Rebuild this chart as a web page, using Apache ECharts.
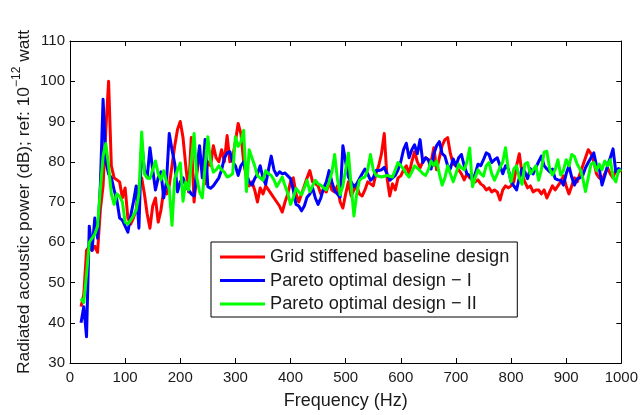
<!DOCTYPE html>
<html>
<head>
<meta charset="utf-8">
<script src="https://cdn.jsdelivr.net/npm/echarts@6/dist/echarts.min.js"></script>
<style>
  html, body { margin: 0; padding: 0; background: #fff; }
  #chart { width: 641px; height: 415px; }
</style>
</head>
<body>
<div id="chart"></div>
<script>
// Frequency samples (Hz)
const frequencies = [
  20, 25, 30, 35, 40, 45, 50, 55, 60, 65, 70, 75, 80, 85, 90, 95, 100, 105, 110, 115,
  120, 125, 130, 135, 140, 145, 150, 155, 160, 165, 170, 175, 180, 185, 190, 195, 200, 205, 210, 215,
  220, 225, 230, 235, 240, 245, 250, 255, 260, 265, 270, 275, 280, 285, 290, 295, 300, 305, 310, 315,
  320, 325, 330, 335, 340, 345, 350, 355, 360, 365, 370, 375, 380, 385, 390, 395, 400, 405, 410, 415,
  420, 425, 430, 435, 440, 445, 450, 455, 460, 465, 470, 475, 480, 485, 490, 495, 500, 505, 510, 515,
  520, 525, 530, 535, 540, 545, 550, 555, 560, 565, 570, 575, 580, 585, 590, 595, 600, 605, 610, 615,
  620, 625, 630, 635, 640, 645, 650, 655, 660, 665, 670, 675, 680, 685, 690, 695, 700, 705, 710, 715,
  720, 725, 730, 735, 740, 745, 750, 755, 760, 765, 770, 775, 780, 785, 790, 795, 800, 805, 810, 815,
  820, 825, 830, 835, 840, 845, 850, 855, 860, 865, 870, 875, 880, 885, 890, 895, 900, 905, 910, 915,
  920, 925, 930, 935, 940, 945, 950, 955, 960, 965, 970, 975, 980, 985, 990, 995, 1000
];

// Radiated acoustic power (dB), grid stiffened baseline design
const baselinePower = [
  44, 47, 58, 59, 58, 59, 57.5, 68, 74, 88, 100, 79, 76, 75.5, 75, 71, 73.5, 66, 64.5, 66,
  68, 74, 76, 72, 67, 63.5, 69, 71, 65, 68, 73, 72, 74, 79, 84, 88, 90, 86, 79, 72.5,
  86, 70, 77, 82, 78, 74.5, 80, 79, 84, 81, 80, 83, 80, 86.5, 80, 81, 85, 89.5, 87, 80,
  76, 74, 75, 73, 70, 73.5, 72, 74, 73, 72, 71, 70, 69, 67.5, 70, 72, 75, 76, 72, 70,
  72, 74, 76, 77.8, 75, 74.5, 74, 72, 73, 72.5, 75, 73, 72.5, 74, 70, 68.5, 72, 75, 71.5, 73,
  74, 72, 71.5, 73, 75, 74.5, 74, 77, 79, 82, 87, 76, 71.5, 74.5, 73, 76, 76.5, 78, 79, 77,
  80, 82.5, 80, 78.5, 80, 81, 80.5, 80, 83.5, 78, 81, 84, 85.5, 86, 82, 79.5, 79, 78, 77, 75.5,
  77, 76, 76.5, 75, 75.5, 74.5, 74, 73, 73.5, 72.5, 73, 72.5, 70.5, 73, 74, 73.5, 74, 75, 79, 82,
  77, 75, 73.5, 74, 72.5, 73, 73, 72, 73, 71, 72.5, 74, 73, 74, 75, 76.5, 74, 72, 74, 76,
  75, 77, 79, 81, 83, 82, 80, 77, 76, 75.5, 77, 78.5, 77, 76, 78, 77.5, 78
];

// Radiated acoustic power (dB), Pareto optimal design I
const paretoOnePower = [
  40, 44, 36.5, 64, 58, 66, 61, 74, 95.5, 80, 77, 76, 73, 70.5, 66, 65.5, 64, 62.5, 66.5, 70,
  74, 63.5, 85, 78, 76, 83.5, 78, 73, 76, 77.5, 71, 75, 87, 83, 79.5, 72.5, 75, 76, 74, 73,
  72, 71.5, 78, 84, 76, 85.5, 73.8, 73.4, 74, 75, 76, 78, 81, 82.2, 82.5, 80, 79, 76.6, 79, 80,
  77, 75, 74.2, 75.8, 77, 79, 76, 74.4, 78, 81.4, 78, 76.6, 77.5, 77, 77.2, 76.5, 75.8, 73, 69.4, 69,
  67.8, 69, 71.2, 72, 73.5, 71, 69.4, 71, 73.5, 75, 77.8, 75, 72.8, 72, 71.2, 84, 80, 76.2, 75, 73.8,
  74.5, 75.8, 77, 78.2, 77, 75.4, 76, 77.8, 77.8, 78, 78.6, 77, 75.4, 76, 76.6, 78, 80, 83, 84.6, 81,
  83, 84.2, 82, 85.5, 79.8, 81, 80.5, 78.2, 82, 84, 85, 82, 81.4, 79, 78.3, 80.7, 79, 81, 81.8, 79,
  77, 76.6, 75.3, 77, 79.4, 79, 80.5, 82.2, 81.8, 79.8, 80.5, 81, 79, 77, 79, 78.2, 75, 74, 73, 76,
  78.3, 77.5, 75.8, 78.3, 77, 78.6, 80, 81.4, 79, 78.2, 77.5, 78.2, 75.8, 75.5, 75.4, 74.2, 77, 79, 76.2, 74.2,
  75.8, 76, 76.6, 78.5, 79.8, 81, 82.2, 79, 78.3, 74.2, 76.5, 79, 81, 83.2, 77.5, 78.3, 78
];

// Radiated acoustic power (dB), Pareto optimal design II
const paretoTwoPower = [
  46, 45, 52, 60, 61, 62, 64, 73, 81.4, 84.5, 79, 72, 69.4, 72, 71.4, 70, 65, 64.5, 65.5, 66.6,
  68, 72, 87.4, 77, 76, 75.8, 78, 80.2, 77, 75.5, 77.8, 75, 73.4, 64.2, 75.8, 78, 79.7, 70.2, 75, 73,
  80, 87, 76, 72.5, 71, 79, 86.2, 80, 77.4, 78, 79, 78, 77.4, 76.2, 76.5, 77, 86.2, 83.8, 85, 87.8,
  72.6, 83, 81, 79, 76.5, 76, 75.4, 77.8, 77, 76.6, 75.5, 73.8, 75, 76.2, 74, 72.2, 69.4, 71, 73.4, 72.5,
  71.8, 73.5, 75.4, 72.6, 74, 75.4, 74.5, 74.2, 73.5, 73, 75, 77.4, 81.8, 75.8, 71.8, 74, 78, 82.2, 74, 66.5,
  72, 75.4, 76, 76.2, 78, 81.8, 78, 76.6, 76.4, 76.2, 76.4, 76.6, 76.4, 76.2, 78, 79.8, 79, 78.2, 77, 76.2,
  77.5, 79, 78.4, 77.8, 77, 76.6, 78, 80.2, 79, 80.2, 77, 74.2, 76, 79, 77, 75, 77, 79.4, 78.5, 78,
  80, 83.4, 73.8, 76, 78, 77, 76.4, 79, 79.8, 77, 75.4, 77, 78.6, 80, 83.5, 78, 75, 78.2, 79, 76,
  74.4, 79.4, 79.8, 77, 78, 79, 75.4, 78, 82.4, 82.6, 78.2, 76.7, 78, 80.5, 76.7, 77.8, 80.5, 79, 81.8, 81.3,
  79.4, 78.2, 76, 72.6, 76, 79.4, 79.8, 77.8, 79.4, 78, 80.2, 79, 80.5, 76.2, 75, 77.8, 78
];

const seriesNames = [
  'Grid stiffened baseline design',
  'Pareto optimal design − I',
  'Pareto optimal design − II'
];
const seriesColors = ['#ff0000', '#0000ff', '#00ff00'];
const seriesValues = [baselinePower, paretoOnePower, paretoTwoPower];

const FONT = '"Liberation Sans", Arial, Helvetica, sans-serif';

function pairs(values) {
  return frequencies.map((f, i) => [f, values[i]]);
}

const tickStyle = { show: true, inside: true, length: 5, lineStyle: { color: '#000', width: 1 } };
const lineStyleAxis = { show: true, onZero: false, lineStyle: { color: '#000', width: 1 } };

const chart = echarts.init(document.getElementById('chart'), null, { renderer: 'canvas' });

chart.setOption({
  animation: false,
  backgroundColor: '#ffffff',
  grid: { left: 70, right: 18, top: 41, bottom: 41, containLabel: false },
  xAxis: [
    {
      type: 'value', min: 0, max: 1000, interval: 100, position: 'bottom',
      axisLine: lineStyleAxis, axisTick: tickStyle, splitLine: { show: false },
      axisLabel: { color: '#1a1a1a', fontSize: 15, fontFamily: FONT, margin: 7, formatter: v => String(v) },
      name: 'Frequency (Hz)', nameLocation: 'middle', nameGap: 29,
      nameTextStyle: { color: '#1a1a1a', fontSize: 18, fontFamily: FONT }
    },
    {
      type: 'value', min: 0, max: 1000, interval: 100, position: 'top',
      axisLine: lineStyleAxis, axisTick: tickStyle, splitLine: { show: false },
      axisLabel: { show: false }
    }
  ],
  yAxis: [
    {
      type: 'value', min: 30, max: 110, interval: 10, position: 'left',
      axisLine: lineStyleAxis, axisTick: tickStyle, splitLine: { show: false },
      axisLabel: { color: '#1a1a1a', fontSize: 15, fontFamily: FONT, margin: 5 }
    },
    {
      type: 'value', min: 30, max: 110, interval: 10, position: 'right',
      axisLine: lineStyleAxis, axisTick: tickStyle, splitLine: { show: false },
      axisLabel: { show: false }
    }
  ],
  legend: {
    orient: 'vertical',
    left: 211, top: 242,
    padding: [6, 8, 4, 9],
    itemGap: 5.5,
    itemWidth: 45, itemHeight: 3,
    icon: 'rect',
    selectedMode: false,
    backgroundColor: '#ffffff',
    borderColor: '#000000', borderWidth: 1, borderRadius: 0,
    textStyle: { color: '#1a1a1a', fontSize: 18.2, fontFamily: FONT },
    data: seriesNames
  },
  graphic: [
    {
      type: 'text',
      x: 24, y: 202,
      rotation: Math.PI / 2,
      style: {
        text: '{a|Radiated acoustic power (dB); ref: 10}{s|−12}{a| watt}',
        align: 'center', verticalAlign: 'middle',
        fill: '#1a1a1a',
        fontFamily: FONT,
        rich: {
          a: { fontSize: 17.4, lineHeight: 26, fontFamily: FONT, fill: '#1a1a1a', color: '#1a1a1a' },
          s: { fontSize: 12, lineHeight: 12, verticalAlign: 'top', fontFamily: FONT, fill: '#1a1a1a', color: '#1a1a1a' }
        }
      }
    }
  ],
  series: seriesNames.map((name, k) => ({
    name: name,
    type: 'line',
    xAxisIndex: 0, yAxisIndex: 0,
    symbol: 'none',
    data: pairs(seriesValues[k]),
    color: seriesColors[k],
    lineStyle: { color: seriesColors[k], width: 3, join: 'round' },
    z: 2 + k
  }))
});
</script>
</body>
</html>
